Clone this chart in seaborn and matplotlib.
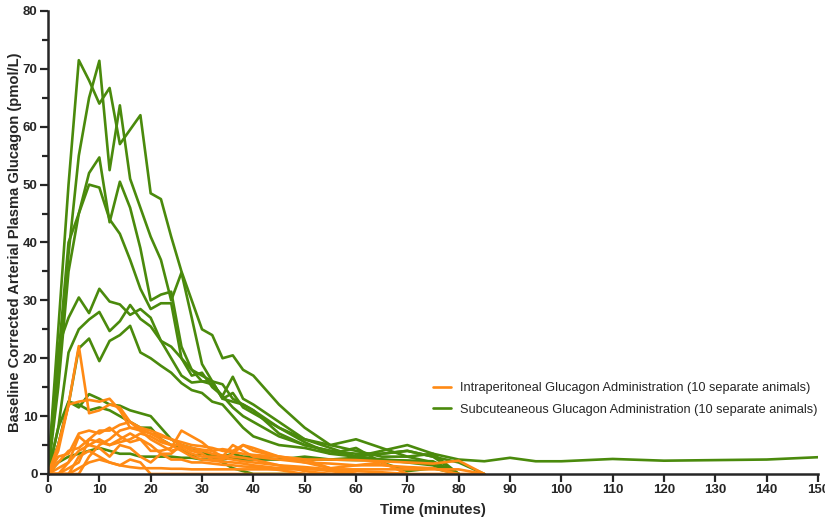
import numpy as np
import pandas as pd
import matplotlib
matplotlib.use("Agg")
import matplotlib.pyplot as plt
import seaborn as sns
from matplotlib.ticker import MultipleLocator
from matplotlib.lines import Line2D

# Sampling times (minutes)
time_min = [0, 2, 4, 6, 8, 10, 12, 14, 16, 18, 20, 22, 24, 26, 28, 30, 32, 34, 36, 38,
            40, 45, 50, 55, 60, 65, 70, 75, 80, 85, 90, 95, 100, 110, 120, 130, 140, 150]

# Subcutaneous animals (pmol/L)
sc_1 = [0, 25, 50, 71.5, 68, 64, 66.7, 57, 59.5, 62, 48.5, 47.5, 41, 35, 30, 25, 24, 20, 20.5, 18,
        17, 12, 8, 5, 4, 3, 3, 3.5, 2.5, 2.2, 2.8, 2.2, 2.2, 2.6, 2.3, 2.4, 2.5, 2.9]
sc_2 = [0, 18, 38, 55, 65, 71.4, 52.5, 63.7, 51, 46, 41, 37, 30, 34.8, 27, 19, 16, 13, 14, 11.5,
        10.5, 8, 5.5, 3.5, 4.5, 2, 0.5, 1, 0]
sc_3 = [0, 15, 35, 45, 52, 54.7, 43.5, 50.5, 46, 39, 30, 31, 31.5, 22, 18, 17, 16, 13, 12.5, 12,
        11, 7, 5, 4, 3, 3.5, 4, 3, 0]
sc_4 = [0, 20, 40, 45, 50, 49.5, 44, 41.5, 37, 32, 28.5, 29.5, 29.5, 20, 17, 17.5, 15, 13.5, 11.5, 10,
        9, 6.5, 5, 4, 3.5, 3.5, 4, 3, 2, 0]
sc_5 = [0, 22, 27, 30.5, 27.8, 32, 29.8, 29.3, 27.5, 28.5, 27, 23, 20, 17, 15.8, 16, 16, 15.5, 13, 12,
        11, 8, 6, 5, 6, 4.5, 3, 2, 0]
sc_6 = [0, 8, 21, 25, 26.7, 28, 24.7, 26.4, 29.2, 26.8, 25.5, 23, 22, 20, 18, 16, 15.5, 13.5, 16.8, 13,
        12, 9, 6, 4.5, 3, 4, 5, 3.5, 0]
sc_7 = [0, 5, 12, 21.7, 23.4, 19.5, 23, 24, 25.6, 21, 20, 18.7, 17.5, 15.7, 14.5, 14, 12.5, 12, 10, 8,
        6.5, 5, 4.5, 3.5, 3, 2.5, 2, 1.5, 0]
sc_8 = [0, 8, 12.5, 11.5, 13.8, 13, 12, 11.8, 11, 10.5, 10, 8, 6, 5, 4.5, 4, 3, 2, 1, 0.5,
        0, 0, 0]
sc_9 = [0, 5, 12.5, 12, 11, 11.5, 11, 10, 9, 8, 8, 6, 5, 4.5, 3, 3.5, 3.2, 3, 3.5, 3,
        3, 2.5, 3, 2.5, 2.8, 2.5, 2.3, 2, 0]
sc_10 = [0, 2, 3, 3.5, 4, 4.5, 4, 3.5, 3.5, 3, 3, 3, 3, 2.8, 2.8, 2.5, 2.5, 2.5, 2.8, 2.5,
         2.5, 2.5, 2.5, 2.5, 2.4, 2.4, 2.3, 2.2, 0]

# Intraperitoneal animals (pmol/L)
ip_1 = [0, 5, 12, 22.1, 10.5, 11, 12, 11.5, 9, 7.5, 6, 5, 4, 4.5, 3.5, 3, 3, 2.8, 2.5, 2.2,
        2, 1.5, 1.2, 0.8, 0.5, 0.3, 0]
ip_2 = [0, 4, 12, 12.5, 12.8, 12.5, 13, 11, 8, 7.5, 7, 6, 5, 5, 4, 4, 3.5, 3.2, 3, 2.8,
        2.5, 1.5, 0.5, 0]
ip_3 = [0, 0, 0, 0, 3, 5, 6, 7.5, 8, 7.8, 7, 6.5, 6, 5.5, 5, 4.8, 4.5, 4, 3.8, 3.5,
        3.3, 3, 2.5, 2.5, 2.4, 2.2, 2, 1.8, 2.3, 0]
ip_4 = [0, 3, 3.5, 7, 7.5, 7, 8, 6.5, 5.5, 6, 4, 4, 4.5, 7.5, 6.5, 5.5, 4, 3, 5, 4,
        3, 2.5, 2, 1.8, 1.5, 1.5, 1.2, 1, 0]
ip_5 = [0, 1, 2, 6.5, 5, 6, 5, 6, 7, 6, 5, 3.5, 3.5, 5, 4, 3.5, 2.5, 2.5, 3.5, 5,
        4.5, 3, 2, 1, 1.5, 2, 0]
ip_6 = [0, 0, 2, 4, 5, 4.5, 3, 5, 4.5, 3, 2, 3.5, 2.5, 2.5, 2, 2, 1.8, 1.6, 1.5, 1.3,
        1.2, 0.7, 0]
ip_7 = [0, 0, 0, 3, 4, 3, 2, 1.5, 2.5, 2, 0, 0, 0, 0, 0, 0, 0, 0, 0, 0,
        0, 0, 0, 0, 0, 0, 0, 0, 0, 0]
ip_8 = [0, 0, 1, 2, 6, 7.5, 7.5, 8.5, 9, 8, 7.5, 6.8, 6, 5, 4.5, 4.2, 4, 4.3, 4, 5,
        4, 3, 2.5, 1, 0]
ip_9 = [0, 0, 0, 1, 2, 2.5, 2, 1.5, 1.2, 1, 1, 1, 0.9, 0.9, 0.8, 0.8, 0.8, 0.8, 0.8, 0.8,
        0.8, 0.8, 0.8, 0.8, 0.8, 0.8, 0.8, 0.8, 0.8, 0]
ip_10 = [0, 2, 4, 4.5, 6, 5.5, 5, 5.5, 6, 7, 6.5, 5.5, 5, 4, 3, 2.5, 2.3, 2.1, 2, 1.8,
         1.5, 1, 1, 0.5, 0]

label_ip = "Intraperitoneal Glucagon Administration (10 separate animals)"
label_sc = "Subcuteaneous Glucagon Administration (10 separate animals)"

sc_series = [sc_1, sc_2, sc_3, sc_4, sc_5, sc_6, sc_7, sc_8, sc_9, sc_10]
ip_series = [ip_1, ip_2, ip_3, ip_4, ip_5, ip_6, ip_7, ip_8, ip_9, ip_10]

rows = []
for i, s in enumerate(sc_series):
    for t, v in zip(time_min, s):
        rows.append({"time": t, "value": v, "group": label_sc, "animal": f"sc{i}"})
for i, s in enumerate(ip_series):
    for t, v in zip(time_min, s):
        rows.append({"time": t, "value": v, "group": label_ip, "animal": f"ip{i}"})
df = pd.DataFrame(rows)

sns.set_style("ticks")
plt.rcParams["font.family"] = ["Liberation Sans", "DejaVu Sans"]

orange = "#FF8A14"
green = "#4A8A0C"

fig = plt.figure(figsize=(8.25, 5.2), dpi=100)
ax = fig.add_axes([48 / 825, 46 / 520, 770 / 825, 463 / 520])

sns.lineplot(data=df, x="time", y="value", hue="group", units="animal", estimator=None,
             palette={label_sc: green, label_ip: orange},
             hue_order=[label_sc, label_ip], linewidth=1.9, ax=ax, legend=False)

ax.set_xlim(0, 150)
ax.set_ylim(0, 80)
ax.xaxis.set_major_locator(MultipleLocator(10))
ax.yaxis.set_major_locator(MultipleLocator(10))
ax.yaxis.set_minor_locator(MultipleLocator(5))
for lab in ax.get_xticklabels() + ax.get_yticklabels():
    lab.set_fontweight("bold")
ax.tick_params(axis="both", which="major", length=6, width=1.6, labelsize=9.5, direction="out", pad=1.5)
ax.tick_params(axis="y", which="minor", length=4, width=1.6)
for sp in ["left", "bottom"]:
    ax.spines[sp].set_linewidth(1.8)
sns.despine(ax=ax)

ax.set_xlabel("Time (minutes)", fontsize=10.8, fontweight="bold", labelpad=5)
ax.set_ylabel("Baseline Corrected Arterial Plasma Glucagon (pmol/L)", fontsize=10.6,
              fontweight="bold")
ax.yaxis.set_label_coords(-0.034, 0.5)

handles = [Line2D([], [], color=orange, lw=1.9), Line2D([], [], color=green, lw=1.9)]
fig.legend(handles, [label_ip, label_sc], loc="upper left",
           bbox_to_anchor=(433 / 825, 1 - 382 / 520), frameon=False, fontsize=9.15,
           handlelength=1.4, handletextpad=0.75, labelspacing=0.75,
           borderpad=0, borderaxespad=0)

fig.savefig("out.png", dpi=100)
